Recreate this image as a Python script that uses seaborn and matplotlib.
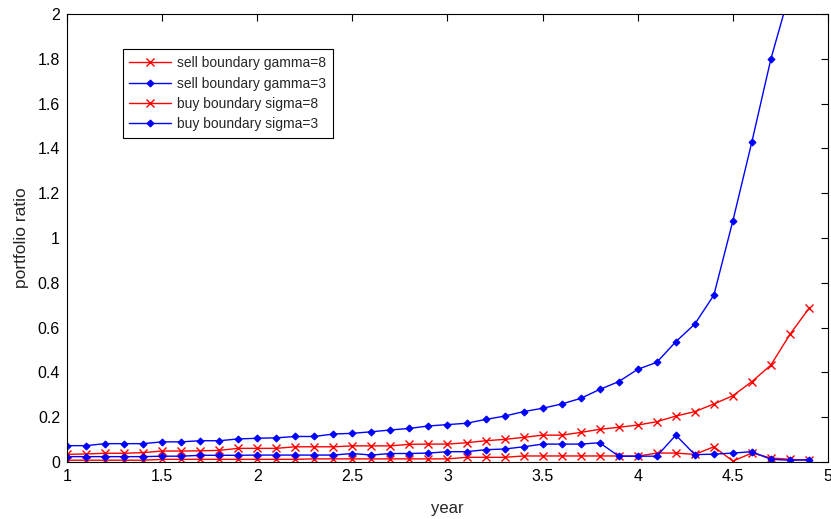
import numpy as np
import pandas as pd
import matplotlib
matplotlib.use("Agg")
import matplotlib.pyplot as plt
from matplotlib.ticker import FormatStrFormatter
import seaborn as sns

years = [1.0, 1.1, 1.2, 1.3, 1.4, 1.5, 1.6, 1.7, 1.8, 1.9,
         2.0, 2.1, 2.2, 2.3, 2.4, 2.5, 2.6, 2.7, 2.8, 2.9,
         3.0, 3.1, 3.2, 3.3, 3.4, 3.5, 3.6, 3.7, 3.8, 3.9,
         4.0, 4.1, 4.2, 4.3, 4.4, 4.5, 4.6, 4.7, 4.8, 4.9]

sell_gamma8 = [0.034, 0.036, 0.039, 0.039, 0.042, 0.049, 0.049, 0.050, 0.052, 0.061,
               0.061, 0.061, 0.068, 0.068, 0.068, 0.072, 0.072, 0.072, 0.079, 0.080,
               0.080, 0.086, 0.095, 0.101, 0.110, 0.120, 0.120, 0.132, 0.146, 0.155,
               0.165, 0.180, 0.205, 0.225, 0.259, 0.296, 0.359, 0.433, 0.570, 0.686]

sell_gamma3 = [0.073, 0.073, 0.082, 0.082, 0.082, 0.090, 0.090, 0.095, 0.095, 0.103,
               0.106, 0.108, 0.114, 0.114, 0.125, 0.128, 0.135, 0.143, 0.150, 0.161,
               0.167, 0.173, 0.190, 0.205, 0.225, 0.240, 0.259, 0.284, 0.324, 0.359,
               0.414, 0.445, 0.537, 0.616, 0.745, 1.077, 1.430, 1.800, 2.100, np.nan]

buy_sigma8 = [0.008, 0.008, 0.008, 0.008, 0.008, 0.012, 0.012, 0.012, 0.012, 0.012,
              0.012, 0.012, 0.012, 0.014, 0.014, 0.014, 0.014, 0.014, 0.014, 0.014,
              0.014, 0.021, 0.021, 0.021, 0.027, 0.027, 0.027, 0.027, 0.027, 0.027,
              0.026, 0.040, 0.040, 0.034, 0.068, 0.004, 0.040, 0.018, 0.012, 0.008]

buy_sigma3 = [0.024, 0.024, 0.024, 0.024, 0.024, 0.026, 0.026, 0.030, 0.030, 0.030,
              0.031, 0.031, 0.031, 0.031, 0.031, 0.038, 0.031, 0.038, 0.038, 0.040,
              0.046, 0.046, 0.055, 0.058, 0.068, 0.080, 0.080, 0.080, 0.086, 0.026,
              0.026, 0.026, 0.120, 0.033, 0.035, 0.040, 0.046, 0.012, 0.008, 0.010]

series_labels = ["sell boundary gamma=8", "sell boundary gamma=3",
                 "buy boundary sigma=8", "buy boundary sigma=3"]
x_ticks = [1, 1.5, 2, 2.5, 3, 3.5, 4, 4.5, 5]
y_ticks = [0, 0.2, 0.4, 0.6, 0.8, 1.0, 1.2, 1.4, 1.6, 1.8, 2.0]

sns.set_theme(style="white")
plt.rcParams["font.family"] = ["Liberation Sans", "DejaVu Sans"]

data = {series_labels[0]: sell_gamma8, series_labels[1]: sell_gamma3,
        series_labels[2]: buy_sigma8, series_labels[3]: buy_sigma3}

fig = plt.figure(figsize=(8.31, 5.19), dpi=100)
ax = fig.add_axes([0.0806, 0.1098, 0.9158, 0.8632])

styles = {
    series_labels[0]: dict(color="#ff0000", marker="x", markersize=6, mew=1.0),
    series_labels[1]: dict(color="#0000ff", marker="D", markersize=3.5, mew=0.8),
    series_labels[2]: dict(color="#ff0000", marker="x", markersize=6, mew=1.0),
    series_labels[3]: dict(color="#0000ff", marker="D", markersize=3.5, mew=0.8),
}

for lab in series_labels:
    df = pd.DataFrame({"year": years, "ratio": data[lab]}).dropna()
    st = styles[lab]
    sns.lineplot(data=df, x="year", y="ratio", ax=ax, label=lab,
                 color=st["color"], marker=st["marker"], markersize=st["markersize"],
                 markeredgewidth=st["mew"], markeredgecolor=st["color"],
                 markerfacecolor=st["color"], linewidth=1.0,
                 estimator=None, sort=False)

ax.set_xlim(1, 5)
ax.set_ylim(0, 2)
ax.set_xticks(x_ticks)
ax.set_yticks(y_ticks)
ax.xaxis.set_major_formatter(FormatStrFormatter("%g"))
ax.yaxis.set_major_formatter(FormatStrFormatter("%g"))
ax.tick_params(direction="in", top=True, right=True, length=5, width=0.8,
               labelsize=11.5, colors="black", pad=5)
for sp in ax.spines.values():
    sp.set_color("black")
    sp.set_linewidth(0.8)
ax.set_xlabel("year", fontsize=12, labelpad=12)
ax.set_ylabel("portfolio ratio", fontsize=12.5, labelpad=6)

leg = ax.legend(loc="upper left", bbox_to_anchor=(0.073, 0.921), borderaxespad=0,
                fancybox=False, edgecolor="black", framealpha=1, fontsize=10,
                handlelength=3.0, handletextpad=0.4, labelspacing=0.45,
                borderpad=0.5, numpoints=1)
leg.get_frame().set_linewidth(0.8)

fig.savefig("out.png", dpi=100)
